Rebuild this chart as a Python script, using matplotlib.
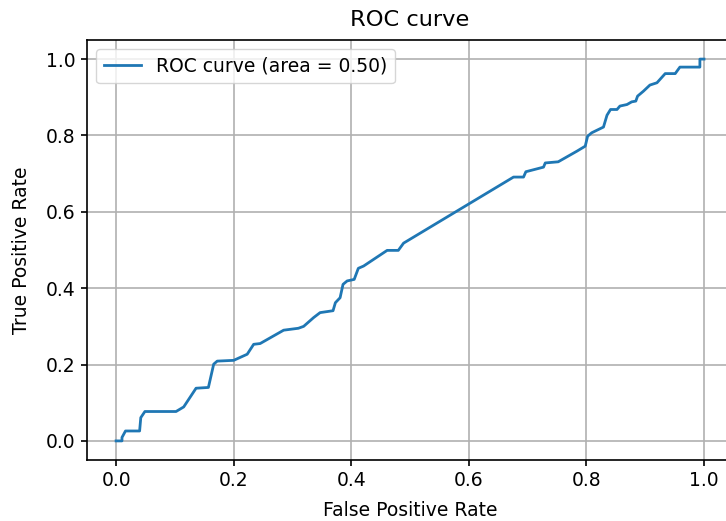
import matplotlib
matplotlib.use("Agg")
import matplotlib.pyplot as plt

fpr = [0.0, 0.01, 0.01, 0.016, 0.04, 0.042, 0.049, 0.102, 0.115, 0.136, 0.157,
       0.166, 0.172, 0.2, 0.223, 0.234, 0.245, 0.285, 0.31, 0.319, 0.336, 0.347,
       0.369, 0.373, 0.381, 0.386, 0.393, 0.405, 0.412, 0.421, 0.461, 0.48, 0.489,
       0.676, 0.693, 0.697, 0.727, 0.73, 0.752, 0.784, 0.798, 0.802, 0.809, 0.829,
       0.835, 0.841, 0.852, 0.857, 0.869, 0.877, 0.884, 0.887, 0.897, 0.908, 0.92,
       0.934, 0.951, 0.959, 0.993, 0.993, 1.0]
tpr = [0.0, 0.0, 0.009, 0.026, 0.026, 0.061, 0.077, 0.077, 0.089, 0.138, 0.14,
       0.201, 0.209, 0.211, 0.227, 0.253, 0.255, 0.29, 0.295, 0.3, 0.323, 0.336,
       0.341, 0.362, 0.375, 0.41, 0.419, 0.423, 0.452, 0.458, 0.499, 0.499, 0.518,
       0.691, 0.691, 0.705, 0.717, 0.728, 0.731, 0.759, 0.772, 0.798, 0.807, 0.822,
       0.853, 0.868, 0.868, 0.877, 0.881, 0.888, 0.89, 0.903, 0.916, 0.932, 0.938,
       0.962, 0.962, 0.979, 0.979, 1.0, 1.0]
roc_auc = 0.50

plt.rcParams['font.family'] = ['DejaVu Sans']
plt.rcParams['font.size'] = 13.5

fig = plt.figure(figsize=(7.26, 5.21), dpi=100)
ax = fig.add_axes([86.7 / 726, 61 / 521, (733.4 - 86.7) / 726, 420 / 521])
ax.plot(fpr, tpr, color='#1f77b4', lw=2.0, label='ROC curve (area = %0.2f)' % roc_auc)
ax.set_xlim(-0.05, 1.05)
ax.set_ylim(-0.05, 1.05)
ax.set_xticks([0.0, 0.2, 0.4, 0.6, 0.8, 1.0])
ax.set_yticks([0.0, 0.2, 0.4, 0.6, 0.8, 1.0])
ax.grid(True, color='#b0b0b0', lw=1.2)
for s in ax.spines.values():
    s.set_linewidth(1.2)
ax.spines['right'].set_visible(False)
ax.tick_params(width=1.2, length=4.5)
ax.set_title('ROC curve', pad=10)
ax.set_xlabel('False Positive Rate', labelpad=8)
ax.set_ylabel('True Positive Rate', labelpad=11)
ax.legend(loc='upper left')
fig.savefig('out.png', dpi=100)
